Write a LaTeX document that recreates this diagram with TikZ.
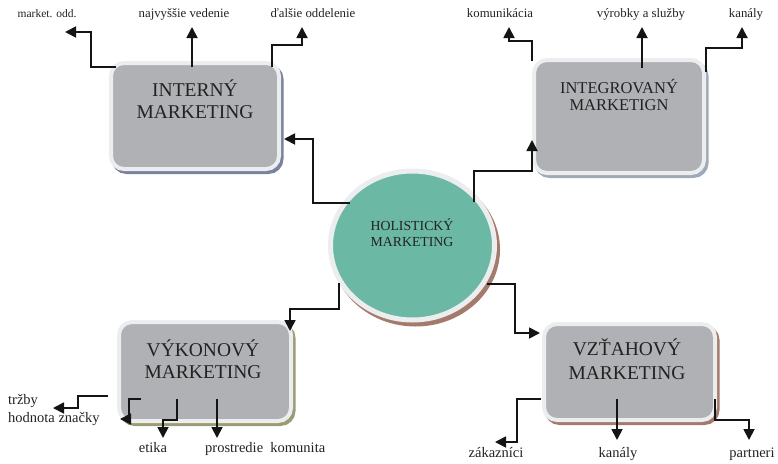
\documentclass[tikz,border=0pt]{standalone}
\usepackage{fontspec}
\setmainfont{Liberation Serif}
\usetikzlibrary{arrows.meta,calc,shapes.geometric,shadows}

\definecolor{boxgray}{HTML}{B0B1B4}
\definecolor{framecol}{HTML}{EBEDEE}
\definecolor{tealfill}{HTML}{6BB9A4}
\definecolor{shblue}{HTML}{7B82A0}
\definecolor{shsteel}{HTML}{9EAAB7}
\definecolor{sholive}{HTML}{9C9C72}
\definecolor{shbrown}{HTML}{A37A6C}
\definecolor{inktext}{HTML}{222222}
\definecolor{inkline}{HTML}{141414}

\tikzset{
  box/.style n args={3}{rectangle, rounded corners=13pt, fill=boxgray,
    draw=framecol, line width=4pt, inner sep=0pt,
    minimum width=#1pt, minimum height=#2pt,
    general shadow={fill=#3, draw=#3, line width=4pt,
      shadow xshift=2.5pt, shadow yshift=-3pt}},
  hub/.style={ellipse, fill=tealfill, draw=framecol, line width=5pt,
    inner sep=0pt, minimum width=164pt, minimum height=149pt,
    general shadow={fill=shbrown, draw=shbrown, line width=5pt,
      shadow xshift=3pt, shadow yshift=-4pt}},
  % multi-line titles: the base anchor sits on the last line
  title/.style={anchor=base, align=center, inner sep=0pt, text=inktext},
  bigtitle/.style={title, font=\fontsize{19.5}{21.8}\selectfont},
  toplabel/.style={anchor=base, inner sep=0pt, text=inktext,
    font=\fontsize{12.8}{14}\selectfont},
  botlabel/.style={anchor=base, inner sep=0pt, text=inktext,
    font=\fontsize{14.5}{16}\selectfont},
  conn/.style={draw=inkline, line width=1.8pt, line join=miter,
    -{Triangle[width=11pt,length=11pt]}},
}

\begin{document}
\begin{tikzpicture}[x=1pt,y=-1pt]
\useasboundingbox (0,0) rectangle (778,463);

% the four marketing areas and the hub
\node[box={168}{106}{shblue}]  (intm) at (195,116)   {};
\node[box={170}{113}{shsteel}] (intg) at (619,116.5) {};
\node[box={172}{99}{sholive}]  (vyk)  at (205,371.5) {};
\node[box={171}{96}{shbrown}]  (vzt)  at (629.5,372) {};
\node[hub] (hol) at (412.5,245.5) {};

% titles
\node[bigtitle] (intm-t) at (195,118) {INTERNÝ\\MARKETING};
\node[title, font=\fontsize{16.5}{16.5}\selectfont] (intg-t) at (619,110) {INTEGROVANÝ\\MARKETIGN};
\node[title, font=\fontsize{13.8}{16}\selectfont] (hol-t) at (412,246) {HOLISTICKÝ\\MARKETING};
\node[bigtitle, font=\fontsize{19.5}{22.5}\selectfont] (vyk-t) at (203,378.5) {VÝKONOVÝ\\MARKETING};
\node[bigtitle, font=\fontsize{19.5}{24}\selectfont] (vzt-t) at (627,379.3) {VZŤAHOVÝ\\MARKETING};

% labels
\node[toplabel, font=\fontsize{11.5}{13}\selectfont] (l-mk) at (47,17) {market. odd.};
\node[toplabel] (l-nv) at (184,17)  {najvyššie vedenie};
\node[toplabel] (l-do) at (313,17)  {ďalšie oddelenie};
\node[toplabel] (l-ko) at (500,17)  {komunikácia};
\node[toplabel] (l-vs) at (641,17)  {výrobky a služby};
\node[toplabel] (l-ka) at (746,17)  {kanály};
\node[botlabel, anchor=base west] (l-tr) at (8,404) {tržby};
\node[botlabel, anchor=base west] (l-hz) at (8,422) {hodnota značky};
\node[botlabel] (l-et) at (153,452) {etika};
\node[botlabel, anchor=base west] (l-pk) at (205,452) {prostredie\ \ komunita};
\node[botlabel] (l-za) at (496,457) {zákazníci};
\node[botlabel] (l-kb) at (618,457) {kanály};
\node[botlabel] (l-pa) at (752,457) {partneri};

% arrow tips next to the labels
\coordinate (mk) at (65,32);
\coordinate (nv) at (192,27);
\coordinate (do) at (302,27);
\coordinate (ko) at (509,27);
\coordinate (vs) at (642,27);
\coordinate (ka) at (742,27);
\coordinate (tr) at (53,408);
\coordinate (hz) at (120,419);
\coordinate (et) at (163,438);
\coordinate (pk) at (217,438);
\coordinate (za) at (495,442);
\coordinate (kb) at (617,440);
\coordinate (pa) at (749,440);

% hub to the four areas
\draw[conn] ($(hol.center)+(-62.5,-42.5)$) -- ++(-37,0) |- ($(intm.east)+(3,23)$);
\draw[conn] ($(hol.center)+(61.5,-43.5)$) -- ++(0,-31) -| ($(intg.west)+(0,23.5)$);
\draw[conn] ($(hol.center)+(-73.5,37.5)$) -- ++(0,26) -| ($(vyk.north east)+(-3,11)$);
\draw[conn] ($(hol.center)+(74.5,38.5)$) -- ++(28,0) |- ($(vzt.north west)+(-2,11)$);

% interny marketing
\draw[conn] ($(intm.north west)+(7,6)$) -- ++(-25,0) |- (mk);
\draw[conn] ($(intm.north)+(-3,6)$) -- (nv);
\draw[conn] ($(intm.north east)+(-9,6)$) -- ++(0,-22) -| (do);

% integrovany marketing
\draw[conn] ($(intg.north west)+(0,3)$) -- ++(0,-20) -| (ko);
\draw[conn] ($(intg.north)+(23,10)$) -- (vs);
\draw[conn] ($(intg.north east)+(0,14)$) -- ++(0,-24) -| (ka);

% vykonovy marketing
\draw[conn] ($(vyk.south west)+(-9,-27)$) -- ++(-30,0) |- (tr);
\draw[conn] ($(vyk.south west)+(24,-24)$) -- ++(-12,0) |- (hz);
\draw[conn] ($(vyk.south)+(-28,-24)$) -- ++(0,21) -| (et);
\draw[conn] ($(vyk.south)+(12,-24)$) -- (pk);

% vztahovy marketing
\draw[conn] ($(vzt.south west)+(-1,-23)$) -- ++(-24,0) |- (za);
\draw[conn] ($(vzt.south)+(-12.5,-23)$) -- (kb);
\draw[conn] ($(vzt.south east)+(-2,-23)$) -- ++(0,21) -| (pa);
\end{tikzpicture}
\end{document}
